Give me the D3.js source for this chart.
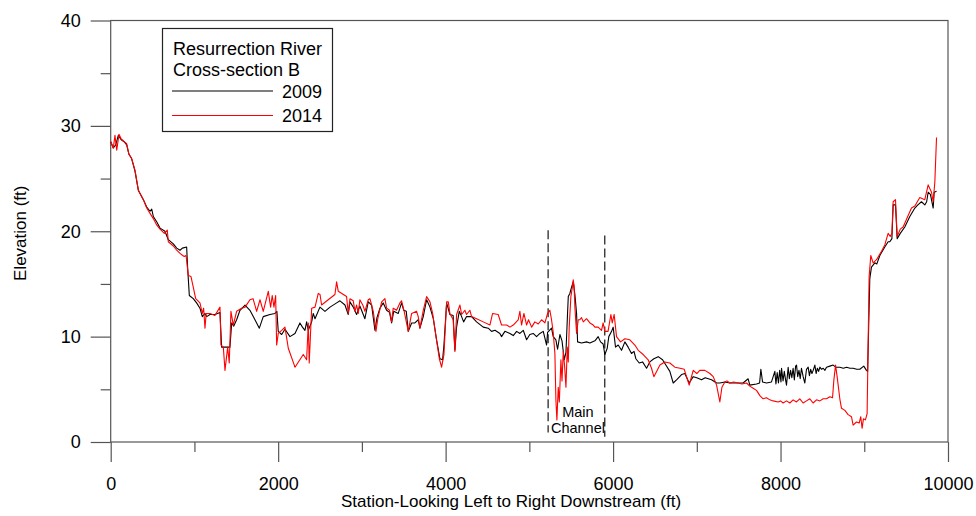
<!DOCTYPE html>
<html>
<head>
<meta charset="utf-8">
<script src="https://cdn.jsdelivr.net/npm/d3@7"></script>
<style>
  body { margin: 0; background: #fff; }
  svg text { font-family: "Liberation Sans", Arial, sans-serif; fill: #000; }
</style>
</head>
<body>
<svg id="chart" width="976" height="516"></svg>
<script>
// Axis ticks
const xTicks = [0, 2000, 4000, 6000, 8000, 10000];
const xMinorTicks = [1000, 3000, 5000, 7000, 9000];
const yTicks = [0, 10, 20, 30, 40];
const yMinorTicks = [5, 15, 25, 35];

const legendTitle = ["Resurrection River", "Cross-section B"];
const seriesNames = ["2009", "2014"];
const seriesColors = ["#000000", "#ff0000"];

// Surveyed ground profile, [station (ft), elevation (ft)]
const profile2009 = [
  [0,28.5],[31,27.9],[60,28.2],[91,29.1],[123,28.7],[160,28.5],[191,28.2],[218,27.3],[250,26.9],
  [290,25.7],[330,23.9],[390,23.0],[430,22.3],[470,21.9],[490,22.1],[509,21.4],[549,20.9],[589,20.3],
  [648,20.0],[688,19.2],[748,18.8],[788,18.4],[828,18.2],[856,18.4],[907,18.5],[919,16.5],[939,13.9],
  [986,13.6],[1026,13.2],[1066,12.7],[1094,11.9],[1126,12.2],[1146,11.9],[1186,12.1],[1245,12.1],
  [1305,12.3],[1325,9.0],[1424,9.0],[1445,11.3],[1470,11.0],[1504,11.6],[1544,12.5],[1604,13.0],
  [1663,12.5],[1723,11.6],[1775,10.8],[1822,11.9],[1902,12.1],[1962,12.2],[1985,12.4],[2001,10.5],
  [2042,10.2],[2081,10.7],[2141,10.0],[2201,10.3],[2260,11.3],[2290,10.9],[2320,10.6],[2340,11.4],
  [2360,10.6],[2400,11.4],[2419,12.2],[2440,11.7],[2499,12.8],[2559,12.4],[2619,12.8],[2699,13.2],
  [2738,13.4],[2798,13.0],[2837,12.1],[2857,13.3],[2897,12.8],[2937,12.1],[2976,12.9],[3036,11.7],
  [3076,13.3],[3116,13.0],[3156,10.6],[3180,11.8],[3216,12.7],[3255,13.2],[3295,12.5],[3330,12.3],
  [3355,11.3],[3380,12.4],[3434,12.2],[3474,13.2],[3500,12.5],[3530,12.4],[3554,10.5],[3594,11.3],
  [3633,11.3],[3673,11.6],[3693,10.8],[3733,11.9],[3773,13.5],[3813,12.8],[3853,11.7],[3892,9.7],
  [3932,7.9],[3964,7.8],[3980,9.2],[4012,13.2],[4051,12.1],[4090,12.0],[4111,8.7],[4131,10.9],
  [4163,12.4],[4191,11.9],[4215,11.4],[4250,11.9],[4310,11.9],[4370,11.4],[4449,10.9],[4509,10.8],
  [4549,10.5],[4590,10.6],[4648,10.3],[4668,10.0],[4708,10.5],[4768,10.3],[4808,10.1],[4848,10.5],
  [4887,10.3],[4927,10.6],[4967,9.7],[5006,10.2],[5046,10.3],[5086,10.0],[5126,10.3],[5166,10.5],
  [5206,9.2],[5218,10.4],[5265,10.8],[5285,10.0],[5317,9.7],[5337,8.8],[5365,10.2],[5390,9.6],
  [5417,7.8],[5437,8.5],[5453,11.6],[5465,13.8],[5484,14.1],[5504,14.7],[5524,15.2],[5544,14.0],
  [5564,12.2],[5576,9.5],[5623,9.4],[5683,9.5],[5723,9.4],[5783,9.6],[5822,10.0],[5850,9.5],
  [5881,9.3],[5902,8.3],[5930,8.9],[5949,10.0],[5982,10.5],[6001,10.9],[6029,9.0],[6061,9.2],
  [6101,8.7],[6141,9.5],[6180,9.0],[6220,8.4],[6250,8.6],[6272,7.9],[6312,7.5],[6352,7.6],
  [6400,7.0],[6439,7.6],[6487,7.9],[6539,8.1],[6591,7.8],[6630,7.3],[6678,6.7],[6718,5.6],
  [6758,5.9],[6818,6.4],[6857,6.5],[6909,5.6],[6957,6.2],[7000,6.1],[7056,5.9],[7100,6.1],
  [7176,5.9],[7236,5.6],[7275,5.6],[7335,5.7],[7394,5.6],[7470,5.6],[7553,5.6],[7613,6.0],
  [7633,5.4],[7713,5.5],[7750,5.6],[7765,6.9],[7785,5.7],[7833,5.6],[7892,5.7],[7912,6.2],
  [7932,6.7],[7945,5.5],[7960,6.6],[7975,5.6],[7990,6.8],[8005,5.7],[8012,7.0],[8030,5.8],
  [8045,6.7],[8060,5.9],[8071,5.4],[8091,7.1],[8105,6.0],[8120,6.8],[8135,6.1],[8150,7.0],
  [8165,5.9],[8180,7.2],[8191,7.3],[8205,6.2],[8220,6.8],[8235,6.0],[8250,7.0],[8270,6.2],
  [8290,5.6],[8310,6.9],[8330,7.1],[8345,6.3],[8360,6.9],[8375,6.5],[8390,6.8],[8410,7.3],
  [8425,6.5],[8440,7.0],[8455,6.7],[8470,7.1],[8490,6.9],[8510,7.0],[8530,6.8],[8549,7.1],
  [8589,7.2],[8628,7.3],[8660,7.1],[8708,7.1],[8750,7.0],[8788,7.1],[8830,7.0],[8867,7.0],
  [8910,6.9],[8947,6.9],[8994,7.2],[9026,6.8],[9040,6.7],[9066,15.5],[9086,16.6],[9126,17.0],
  [9150,16.9],[9186,17.7],[9245,18.5],[9285,19.0],[9305,19.0],[9330,19.3],[9345,22.5],[9373,22.5],
  [9393,19.3],[9430,19.8],[9484,20.4],[9544,21.4],[9604,22.2],[9640,22.5],[9683,22.8],[9723,22.5],
  [9745,22.8],[9763,23.7],[9790,23.5],[9823,22.2],[9835,23.7],[9863,23.8]
];

const profile2014 = [
  [0,28.5],[31,27.9],[51,29.1],[72,27.7],[99,29.2],[123,28.8],[160,28.5],[191,28.3],[218,27.3],
  [250,26.9],[290,25.8],[330,23.9],[390,23.0],[430,22.2],[470,21.7],[509,21.2],[549,20.6],[589,20.2],
  [640,19.8],[676,20.1],[688,19.0],[748,18.6],[788,18.2],[828,17.9],[860,17.7],[879,17.6],[900,17.7],
  [927,15.8],[959,15.7],[986,14.7],[1015,13.6],[1066,13.2],[1094,12.2],[1110,12.7],[1126,10.8],
  [1140,12.2],[1186,12.2],[1245,12.0],[1305,12.8],[1317,9.2],[1345,9.0],[1365,6.8],[1397,9.0],
  [1416,7.5],[1436,12.4],[1464,11.1],[1504,12.4],[1564,12.7],[1605,12.8],[1663,13.5],[1700,13.6],
  [1743,12.4],[1783,13.5],[1822,12.4],[1882,14.3],[1910,12.8],[1929,13.9],[1950,12.8],[1970,13.9],
  [1982,9.2],[2001,10.3],[2042,10.6],[2081,10.9],[2121,8.9],[2201,7.1],[2300,8.3],[2340,7.8],
  [2360,11.3],[2371,7.5],[2400,12.7],[2440,12.8],[2479,14.1],[2500,14.0],[2519,13.0],[2598,13.5],
  [2678,14.0],[2698,15.2],[2718,14.3],[2817,13.8],[2837,12.2],[2857,13.6],[2897,13.4],[2917,12.4],
  [2937,13.0],[2957,12.2],[2976,13.5],[3016,12.9],[3036,12.4],[3076,13.5],[3096,13.6],[3136,12.4],
  [3168,10.5],[3190,11.7],[3236,13.3],[3275,13.6],[3295,12.7],[3330,12.5],[3355,11.4],[3374,12.7],
  [3414,12.5],[3454,13.2],[3474,13.4],[3505,12.4],[3554,10.5],[3594,12.2],[3653,12.4],[3673,11.9],
  [3693,10.8],[3733,12.5],[3773,13.8],[3813,13.3],[3845,12.2],[3885,10.0],[3925,7.9],[3952,7.1],
  [3980,8.3],[4012,13.3],[4032,13.3],[4051,12.2],[4090,11.6],[4111,8.6],[4131,12.1],[4171,13.0],
  [4191,12.1],[4230,12.5],[4250,12.1],[4290,12.5],[4310,11.9],[4370,11.7],[4449,11.4],[4529,11.1],
  [4561,12.2],[4628,12.1],[4668,11.1],[4728,11.1],[4768,10.9],[4808,11.1],[4867,11.6],[4887,12.4],
  [4907,11.1],[4935,12.2],[4967,11.1],[4990,11.6],[5027,10.9],[5066,11.4],[5106,11.2],[5146,11.6],
  [5186,11.3],[5218,12.2],[5245,12.5],[5265,11.6],[5285,10.4],[5305,8.4],[5317,4.0],[5329,2.1],
  [5345,5.2],[5358,3.8],[5377,7.8],[5390,5.8],[5405,8.6],[5421,7.2],[5437,5.2],[5453,9.0],
  [5465,7.6],[5476,10.9],[5496,13.8],[5512,14.6],[5524,15.4],[5534,14.8],[5544,12.8],[5564,10.3],
  [5584,11.6],[5603,11.6],[5623,11.8],[5644,11.4],[5683,11.7],[5723,11.3],[5763,11.1],[5783,10.9],
  [5822,10.9],[5862,10.6],[5881,11.3],[5902,10.5],[5940,10.5],[5974,12.1],[5990,11.3],[6013,12.1],
  [6041,10.0],[6089,9.5],[6141,9.8],[6200,9.7],[6260,9.2],[6300,8.7],[6360,8.3],[6419,7.8],
  [6459,7.0],[6487,6.2],[6520,6.7],[6559,7.3],[6618,7.6],[6678,7.5],[6738,7.1],[6800,7.0],
  [6850,6.9],[6909,5.4],[6957,6.8],[7000,6.5],[7036,6.8],[7096,6.8],[7156,6.5],[7196,6.2],
  [7236,5.4],[7275,3.8],[7300,5.2],[7335,5.7],[7360,5.8],[7394,5.6],[7440,5.7],[7493,5.6],
  [7540,5.5],[7594,5.6],[7633,5.3],[7673,5.1],[7713,4.9],[7753,4.4],[7792,4.1],[7832,4.2],
  [7872,4.0],[7912,3.9],[7971,3.8],[8000,3.9],[8031,3.7],[8071,3.9],[8111,3.7],[8150,4.0],
  [8190,3.8],[8230,4.1],[8270,3.7],[8310,3.9],[8350,4.1],[8389,3.7],[8430,4.0],[8470,3.9],
  [8509,4.1],[8549,4.1],[8589,4.3],[8621,4.2],[8637,5.9],[8657,7.3],[8676,6.2],[8708,4.1],
  [8728,3.2],[8768,3.0],[8807,2.6],[8847,2.4],[8867,1.6],[8907,1.9],[8939,1.8],[8958,2.4],
  [8974,1.3],[8990,2.2],[9014,2.1],[9034,2.7],[9058,15.7],[9078,17.7],[9106,17.0],[9146,17.3],
  [9206,18.1],[9245,18.7],[9285,19.8],[9310,19.5],[9330,19.8],[9345,22.8],[9373,23.0],[9393,19.5],
  [9430,20.2],[9464,20.4],[9524,21.5],[9564,22.2],[9604,22.4],[9663,23.2],[9723,23.0],[9763,24.4],
  [9803,23.7],[9823,22.8],[9843,24.7],[9863,28.9]
];

// Main channel banks: [station, top elevation, bottom elevation]
const channelBanks = [[5224, 20.1, 0.9], [5901, 19.6, 0.5]];
const channelLabel = ["Main", "Channel"];

const svg = d3.select("#chart");
const plotLeft = 110.7, plotRight = 948, plotTop = 20.5, plotBottom = 442;

const x = d3.scaleLinear().domain([0, 10000]).range([plotLeft, plotRight]);
const y = d3.scaleLinear().domain([0, 40]).range([plotBottom, plotTop]);

const axisColor = "#555";
const FONT = 17;
const TICK_FONT = 18;

// Plot frame
svg.append("rect")
  .attr("x", plotLeft).attr("y", plotTop)
  .attr("width", plotRight - plotLeft).attr("height", plotBottom - plotTop)
  .attr("fill", "none").attr("stroke", axisColor).attr("stroke-width", 1.2);

function styleAxis(g) {
  g.select(".domain").remove();
  g.selectAll(".tick line").attr("stroke", axisColor).attr("stroke-width", 1.2);
  g.selectAll(".tick text").attr("fill", "#000");
  g.attr("font-size", TICK_FONT).attr("font-family", '"Liberation Sans", Arial, sans-serif');
}

// Y axis (major + minor)
svg.append("g").attr("transform", `translate(${plotLeft},0)`)
  .call(d3.axisLeft(y).tickValues(yTicks).tickSize(20).tickPadding(10).tickFormat(d3.format("d")))
  .call(styleAxis);
svg.append("g").attr("transform", `translate(${plotLeft},0)`)
  .call(d3.axisLeft(y).tickValues(yMinorTicks).tickSize(10).tickFormat(""))
  .call(styleAxis);

// X axis (major + minor)
svg.append("g").attr("transform", `translate(0,${plotBottom})`)
  .call(d3.axisBottom(x).tickValues(xTicks).tickSize(20).tickPadding(15).tickFormat(d3.format("d")))
  .call(styleAxis);
svg.append("g").attr("transform", `translate(0,${plotBottom})`)
  .call(d3.axisBottom(x).tickValues(xMinorTicks).tickSize(10).tickFormat(""))
  .call(styleAxis);

// Axis titles
svg.append("text")
  .attr("x", 511).attr("y", 507)
  .attr("text-anchor", "middle").attr("font-size", FONT)
  .text("Station-Looking Left to Right Downstream (ft)");
svg.append("text")
  .attr("transform", `translate(26,${(plotTop + plotBottom) / 2 + 2}) rotate(-90)`)
  .attr("text-anchor", "middle").attr("font-size", FONT)
  .text("Elevation (ft)");

// Main channel bank markers
svg.append("g").selectAll("line").data(channelBanks).join("line")
  .attr("x1", d => x(d[0])).attr("x2", d => x(d[0]))
  .attr("y1", d => y(d[1])).attr("y2", d => y(d[2]))
  .attr("stroke", "#000").attr("stroke-width", 1.1)
  .attr("stroke-dasharray", "9,4");

const midStation = (channelBanks[0][0] + channelBanks[1][0]) / 2;
svg.append("g").selectAll("text").data(channelLabel).join("text")
  .attr("x", x(midStation) + 1.5)
  .attr("y", (d, i) => 417 + i * 15.5)
  .attr("text-anchor", "middle").attr("font-size", 14.5)
  .attr("fill", "#222")
  .text(d => d);

// Profiles
const line = d3.line().x(d => x(d[0])).y(d => y(d[1]));
[profile2009, profile2014].forEach((data, i) => {
  svg.append("path")
    .datum(data)
    .attr("d", line)
    .attr("fill", "none")
    .attr("stroke", seriesColors[i])
    .attr("stroke-width", 1.1)
    .attr("stroke-linejoin", "round");
});

// Legend
const LEGEND_FONT = 18;
const lg = svg.append("g");
lg.append("rect")
  .attr("x", 162.5).attr("y", 28.5).attr("width", 170).attr("height", 103)
  .attr("fill", "#fff").attr("stroke", "#222").attr("stroke-width", 1.2);
lg.selectAll("text.title").data(legendTitle).join("text")
  .attr("class", "title")
  .attr("x", 173).attr("y", (d, i) => 55 + i * 21)
  .attr("font-size", LEGEND_FONT)
  .text(d => d);
seriesNames.forEach((name, i) => {
  const yy = 91 + i * 24.5;
  lg.append("line")
    .attr("x1", 172).attr("x2", 273).attr("y1", yy).attr("y2", yy)
    .attr("stroke", seriesColors[i]).attr("stroke-width", 1.1);
  lg.append("text")
    .attr("x", 322).attr("y", yy + 6.5)
    .attr("text-anchor", "end").attr("font-size", LEGEND_FONT)
    .text(name);
});
</script>
</body>
</html>
